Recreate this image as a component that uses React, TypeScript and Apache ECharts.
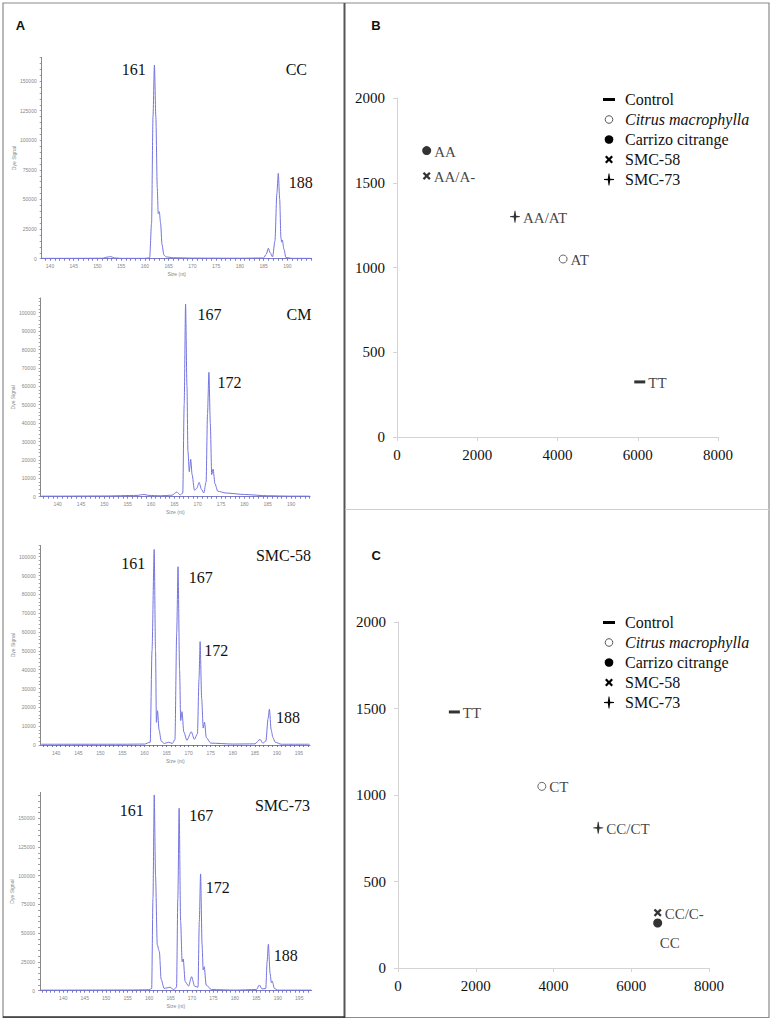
import React, { useEffect, useRef } from "react";
import * as echarts from "echarts";

// ---------- Panel A: electropherogram traces [size (nt), dye signal] ----------
const traceCC: [number, number][] = [
  [138.3, 300], [145, 300], [151, 400], [152.3, 1500], [152.8, 1800], [153.6, 600], [155, 300], [160, 300],
  [161.0, 800], [161.4, 30000], [161.7, 120000], [162.0, 163600], [162.3, 120000], [162.6, 60000],
  [162.8, 38000], [163.03, 39700], [163.3, 30000], [163.6, 12000], [164.0, 3000], [164.5, 1500],
  [166, 800], [170, 500], [180, 400], [185, 600], [185.6, 4000], [186.0, 8800], [186.4, 5000],
  [186.9, 1500], [187.4, 15000], [187.8, 55000], [188.1, 72100], [188.4, 50000], [188.65, 18000],
  [188.8, 14000], [188.95, 15800], [189.3, 8000], [189.7, 1000], [191, 300], [195.1, 300]
];
const traceCM: [number, number][] = [
  [136.5, 300], [140, 300], [150, 400], [157, 700], [158.5, 1200], [159.5, 700], [162, 500],
  [164.5, 800], [165.5, 2500], [166.3, 1000], [166.8, 2000], [167.1, 50000], [167.4, 104700],
  [167.7, 60000], [167.9, 25000], [168.2, 13600], [168.5, 20300], [168.8, 12000], [169.3, 3500],
  [169.8, 4500], [170.3, 7800], [170.8, 4000], [171.3, 2000], [171.8, 8000], [172.1, 45000],
  [172.4, 67600], [172.7, 40000], [173.0, 12000], [173.3, 15000], [173.7, 7000], [174.3, 3000],
  [176, 2000], [180, 1200], [185, 500], [190, 300], [194, 300]
];
const traceSMC58: [number, number][] = [
  [136.6, 400], [140, 400], [155, 400], [160, 500], [161.3, 1500], [161.7, 50000], [162.2, 103900],
  [162.5, 50000], [162.7, 12000], [162.95, 18200], [163.3, 8000], [163.8, 2000], [164.5, 800],
  [165.5, 1500], [166.3, 800], [166.9, 3000], [167.3, 60000], [167.6, 94700], [167.95, 40000],
  [168.2, 13000], [168.5, 17700], [168.9, 7000], [169.6, 2500], [170.6, 7000], [171.3, 3000],
  [172.0, 6000], [172.35, 35000], [172.6, 54900], [172.95, 25000], [173.3, 9000], [173.6, 12100],
  [174.0, 4000], [175, 1000], [180, 500], [185, 600], [186.2, 3000], [186.8, 1000], [187.5, 2000],
  [188.0, 14000], [188.3, 19000], [188.7, 8000], [189.1, 4000], [189.6, 1500], [191, 400], [197.4, 400]
];
const traceSMC73: [number, number][] = [
  [134.7, 500], [140, 500], [155, 600], [160, 800], [160.6, 2000], [160.9, 80000], [161.2, 170300],
  [161.5, 100000], [161.9, 40000], [162.4, 33900], [162.8, 10000], [163.5, 2000], [164.9, 3000],
  [165.7, 1000], [166.4, 3000], [166.7, 80000], [167.0, 158700], [167.35, 60000], [167.7, 25000],
  [167.96, 27600], [168.4, 8000], [169.2, 4000], [169.9, 12200], [170.6, 4000], [171.4, 3000],
  [171.7, 60000], [172.0, 101600], [172.35, 40000], [172.6, 18000], [172.85, 20900], [173.3, 5000],
  [174.5, 1000], [180, 500], [185, 1000], [185.7, 5000], [186.3, 1500], [187.2, 2000], [187.5, 25000],
  [187.8, 40400], [188.2, 15000], [188.5, 7000], [188.7, 8400], [189.2, 2000], [190, 500], [197.8, 500]
];

const sizeLabelsShort = [140, 145, 150, 155, 160, 165, 170, 175, 180, 185, 190];
const sizeLabelsLong = [140, 145, 150, 155, 160, 165, 170, 175, 180, 185, 190, 195];
const signalLabels25k = [0, 25000, 50000, 75000, 100000, 125000, 150000];
const signalLabels10k = [0, 10000, 20000, 30000, 40000, 50000, 60000, 70000, 80000, 90000, 100000];

const sampleNames = ["CC", "CM", "SMC-58", "SMC-73"];
const peakLabelsCC = ["161", "188"];
const peakLabelsCM = ["167", "172"];
const peakLabelsSMC58 = ["161", "167", "172", "188"];
const peakLabelsSMC73 = ["161", "167", "172", "188"];

// ---------- Panels B & C: genotyping scatter ----------
const groups = ["Control", "Citrus macrophylla", "Carrizo citrange", "SMC-58", "SMC-73"];
const panelBX = [6050, 4140, 740, 740, 2940];
const panelBY = [325, 1050, 1690, 1540, 1300];
const panelBLabels = ["TT", "AT", "AA", "AA/A-", "AA/AT"];
const panelCX = [1450, 3700, 6680, 6680, 5150];
const panelCY = [1480, 1050, 260, 320, 810];
const panelCLabels = ["TT", "CT", "CC", "CC/C-", "CC/CT"];
const scatterXTicks = [0, 2000, 4000, 6000, 8000];
const scatterYTicks = [0, 500, 1000, 1500, 2000];

const SERIF = "Liberation Serif, Times New Roman, serif";
const SANS = "Liberation Sans, Arial, sans-serif";
const TRACE = "#7474e0";

const X_PATH = "M2,0L5,3L8,0L10,2L7,5L10,8L8,10L5,7L2,10L0,8L3,5L0,2Z";
const PLUS_PATH = "M4.6,0L5.4,0L6.2,5.2L10,5.6L10,6.4L6.2,6.8L5.4,12L4.6,12L3.8,6.8L0,6.4L0,5.6L3.8,5.2Z";
const symbolFor = ["path://M0,0H12V3H0Z", "circle", "circle", "path://" + X_PATH, "path://" + PLUS_PATH];
const symbolSizeFor: any[] = [[11, 3], 8, 9, 8, [10, 12]];
const styleFor: any[] = [
  { color: "#000" },
  { color: "#fff", borderColor: "#444", borderWidth: 1 },
  { color: "#000" },
  { color: "#000" },
  { color: "#000" },
];

function range(a: number, b: number, step: number) {
  const out: number[] = [];
  for (let v = a; v <= b + 1e-9; v += step) out.push(v);
  return out;
}

const plain = (v: number) => String(v);

let shapesRegistered = false;
function registerShapes() {
  if (shapesRegistered) return;
  echarts.graphic.registerShape("xmark", echarts.graphic.extendPath(X_PATH, {}) as any);
  echarts.graphic.registerShape("plusmark", echarts.graphic.extendPath(PLUS_PATH, {}) as any);
  shapesRegistered = true;
}

export default function App() {
  const ref = useRef<HTMLDivElement>(null);
  useEffect(() => {
    if (!ref.current) return;
    registerShapes();
    const chart = echarts.init(ref.current, undefined, { renderer: "svg" });

    const traces = [traceCC, traceCM, traceSMC58, traceSMC73];
    const aGrids = [
      { left: 41.7, top: 57.4, width: 270, height: 201.3, xmin: 138.25, xmax: 195.14, ymax: 170000, yLabels: signalLabels25k, minor: 5000, xLabels: sizeLabelsShort },
      { left: 40.7, top: 298, width: 269.3, height: 198.7, xmin: 136.36, xmax: 194.06, ymax: 108000, yLabels: signalLabels10k, minor: 2000, xLabels: sizeLabelsShort },
      { left: 40.7, top: 545.4, width: 269.3, height: 199.6, xmin: 136.48, xmax: 197.5, ymax: 106000, yLabels: signalLabels10k, minor: 2000, xLabels: sizeLabelsLong },
      { left: 40, top: 792.4, width: 271.7, height: 198.3, xmin: 134.57, xmax: 197.9, ymax: 172500, yLabels: signalLabels25k, minor: 5000, xLabels: sizeLabelsLong },
    ];
    const bGrid = { left: 397, top: 98, width: 321, height: 339 };
    const cGrid = { left: 398, top: 622, width: 311, height: 346 };

    const grids: any[] = [...aGrids, bGrid, cGrid].map((g) => ({
      left: g.left, top: g.top, width: g.width, height: g.height,
      containLabel: false, outerBoundsMode: "none",
    }));

    const xAxes: any[] = [];
    const yAxes: any[] = [];
    aGrids.forEach((g, i) => {
      xAxes.push({
        gridIndex: i, type: "value", min: g.xmin, max: g.xmax,
        axisLine: { lineStyle: { color: "#7a7ac8", width: 1 } },
        axisTick: { customValues: range(Math.ceil(g.xmin), Math.floor(g.xmax), 1), length: 2, lineStyle: { color: "#5a5a9a", width: 0.8 } },
        axisLabel: { customValues: g.xLabels, formatter: plain, fontSize: 5, color: "#888", margin: 5, fontFamily: SANS },
        splitLine: { show: false },
        name: "Size (nt)", nameLocation: "middle", nameGap: 13,
        nameTextStyle: { fontSize: 5, color: "#888", fontFamily: SANS },
      });
      yAxes.push({
        gridIndex: i, type: "value", min: 0, max: g.ymax,
        axisLine: { show: true, lineStyle: { color: "#888", width: 1 } },
        axisTick: { show: true, customValues: range(0, g.ymax, g.minor), length: 2, lineStyle: { color: "#888", width: 0.8 } },
        axisLabel: { customValues: g.yLabels, formatter: plain, fontSize: 5, color: "#888", margin: 5, fontFamily: SANS },
        splitLine: { show: false },
        name: "Dye Signal", nameLocation: "middle", nameRotate: 90, nameGap: 22,
        nameTextStyle: { fontSize: 5, color: "#888", fontFamily: SANS },
      });
    });
    [4, 5].forEach((gi) => {
      xAxes.push({
        gridIndex: gi, type: "value", min: 0, max: 8000, interval: 2000,
        axisLine: { lineStyle: { color: "#d4d4d4", width: 1 } },
        axisTick: { show: true, length: 4, lineStyle: { color: "#d4d4d4" } },
        axisLabel: { customValues: scatterXTicks, formatter: plain, fontSize: 15, color: "#111", margin: 10, fontFamily: SERIF },
        splitLine: { show: false },
      });
      yAxes.push({
        gridIndex: gi, type: "value", min: 0, max: 2000, interval: 500,
        axisLine: { show: true, lineStyle: { color: "#d4d4d4", width: 1 } },
        axisTick: { show: true, length: 4, lineStyle: { color: "#d4d4d4" } },
        axisLabel: { customValues: scatterYTicks, formatter: plain, fontSize: 15, color: "#111", margin: 12, fontFamily: SERIF },
        splitLine: { show: false },
      });
    });

    const series: any[] = traces.map((t, i) => ({
      type: "line", xAxisIndex: i, yAxisIndex: i, data: t, showSymbol: false,
      smooth: 0.25, smoothMonotone: "x",
      lineStyle: { color: TRACE, width: 1 }, silent: true,
    }));

    const addScatter = (gi: number, xs: number[], ys: number[], labels: string[]) => {
      groups.forEach((name, k) => {
        const isCCbelow = gi === 5 && k === 2;
        series.push({
          type: "scatter", name, xAxisIndex: gi, yAxisIndex: gi,
          data: [[xs[k], ys[k]]],
          symbol: symbolFor[k], symbolSize: symbolSizeFor[k], symbolKeepAspect: false,
          itemStyle: styleFor[k],
          label: {
            show: true, formatter: labels[k],
            position: isCCbelow ? "bottom" : "right",
            distance: isCCbelow ? 6 : 3,
            offset: isCCbelow ? [12, 2] : [0, 1],
            fontFamily: SERIF, fontSize: 15, color: "#111",
          },
          z: 5,
        });
      });
    };
    addScatter(4, panelBX, panelBY, panelBLabels);
    addScatter(5, panelCX, panelCY, panelCLabels);

    const txt = (x: number, y: number, s: string, size = 16, align = "center", font = SERIF, weight = "normal", fontStyle = "normal") => ({
      type: "text", x, y, silent: true,
      style: { text: s, fontFamily: font, fontSize: size, fontWeight: weight, fontStyle, fill: "#111", align, verticalAlign: "middle" },
    });

    // legend built from the group names
    const legendBlock = (top: number) => {
      const cx = 609;
      const items: any[] = [];
      groups.forEach((name, k) => {
        const cy = top + k * 20;
        if (k === 0) items.push({ type: "rect", shape: { x: cx - 6, y: cy - 1.5, width: 12, height: 3 }, style: { fill: "#000" }, silent: true });
        if (k === 1) items.push({ type: "circle", shape: { cx, cy, r: 3.8 }, style: { fill: "#fff", stroke: "#555", lineWidth: 1 }, silent: true });
        if (k === 2) items.push({ type: "circle", shape: { cx, cy, r: 4.3 }, style: { fill: "#000" }, silent: true });
        if (k === 3) items.push({ type: "xmark", x: cx - 4, y: cy - 4, scaleX: 0.8, scaleY: 0.8, style: { fill: "#000" }, silent: true });
        if (k === 4) items.push({ type: "plusmark", x: cx - 5, y: cy - 6, scaleX: 1, scaleY: 1, style: { fill: "#000" }, silent: true });
        items.push(txt(625, cy, name, 16, "left", SERIF, "normal", k === 1 ? "italic" : "normal"));
      });
      return items;
    };

    const graphic: any[] = [
      { type: "rect", shape: { x: 3, y: 3, width: 766, height: 1014.5 }, style: { fill: "none", stroke: "#8a8a8a", lineWidth: 1.2 }, silent: true },
      { type: "line", shape: { x1: 344.5, y1: 3, x2: 344.5, y2: 1018 }, style: { stroke: "#555", lineWidth: 2 }, silent: true },
      { type: "line", shape: { x1: 345, y1: 509.5, x2: 769, y2: 509.5 }, style: { stroke: "#cfcfcf", lineWidth: 1.2 }, silent: true },
      { type: "line", shape: { x1: 3, y1: 1017, x2: 345, y2: 1017 }, style: { stroke: "#333", lineWidth: 1.6 }, silent: true },
      txt(20.5, 25.5, "A", 13, "center", SANS, "bold"),
      txt(376, 25.5, "B", 13, "center", SANS, "bold"),
      txt(376.3, 555, "C", 13, "center", SANS, "bold"),
      // sample names
      txt(307, 69.5, sampleNames[0], 16, "right"),
      txt(311.5, 314, sampleNames[1], 16, "right"),
      txt(311, 555, sampleNames[2], 16, "right"),
      txt(310, 805.5, sampleNames[3], 16, "right"),
      // peak allele sizes
      txt(133.7, 69.5, peakLabelsCC[0]), txt(300.8, 182.5, peakLabelsCC[1]),
      txt(209.5, 314, peakLabelsCM[0]), txt(229.5, 382, peakLabelsCM[1]),
      txt(133.3, 563.5, peakLabelsSMC58[0]), txt(200.8, 577.5, peakLabelsSMC58[1]),
      txt(216.2, 650.5, peakLabelsSMC58[2]), txt(288, 717.5, peakLabelsSMC58[3]),
      txt(131.7, 810.5, peakLabelsSMC73[0]), txt(201.2, 815.5, peakLabelsSMC73[1]),
      txt(217.8, 887.5, peakLabelsSMC73[2]), txt(285.8, 955.5, peakLabelsSMC73[3]),
      ...legendBlock(99.5),
      ...legendBlock(622.5),
    ];

    chart.setOption({
      animation: false,
      backgroundColor: "#fff",
      textStyle: { fontFamily: SERIF },
      grid: grids, xAxis: xAxes, yAxis: yAxes,
      series, graphic,
    });
    return () => chart.dispose();
  }, []);
  return <div ref={ref} style={{ position: "absolute", left: 0, top: 0, width: 773, height: 1021 }} />;
}
